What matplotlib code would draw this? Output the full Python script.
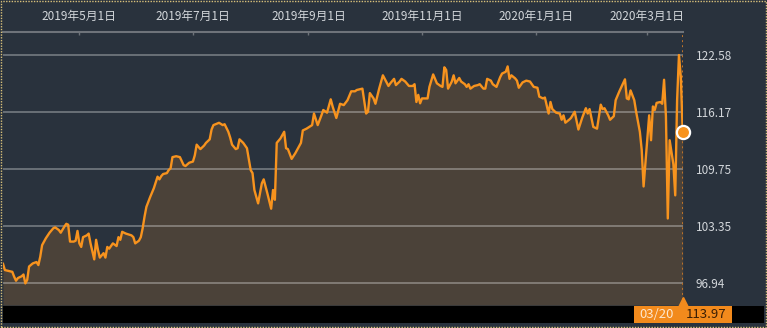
import numpy as np
import pandas as pd
import matplotlib
matplotlib.use("Agg")
import matplotlib.pyplot as plt
import matplotlib.dates as mdates
from matplotlib.patches import Rectangle
from matplotlib.transforms import blended_transform_factory

plt.rcParams['font.family'] = ['Noto Sans CJK JP', 'DejaVu Sans']

# 価格データ（チャートから読み取り）
dates = [
    "2019-03-21", "2019-03-22", "2019-03-24", "2019-03-26", "2019-03-27", "2019-03-28",
    "2019-03-29", "2019-03-31", "2019-04-01", "2019-04-02", "2019-04-03", "2019-04-04",
    "2019-04-06", "2019-04-08", "2019-04-09", "2019-04-10", "2019-04-11", "2019-04-13",
    "2019-04-15", "2019-04-17", "2019-04-18", "2019-04-20", "2019-04-21", "2019-04-23",
    "2019-04-24", "2019-04-25", "2019-04-26", "2019-04-28", "2019-04-29", "2019-04-30",
    "2019-05-01", "2019-05-02", "2019-05-03", "2019-05-05", "2019-05-06", "2019-05-07",
    "2019-05-09", "2019-05-10", "2019-05-11", "2019-05-12", "2019-05-14", "2019-05-15",
    "2019-05-16", "2019-05-17", "2019-05-18", "2019-05-19", "2019-05-21", "2019-05-22",
    "2019-05-23", "2019-05-24", "2019-05-26", "2019-05-29", "2019-05-30", "2019-05-31",
    "2019-06-02", "2019-06-03", "2019-06-04", "2019-06-05", "2019-06-06", "2019-06-08",
    "2019-06-10", "2019-06-12", "2019-06-13", "2019-06-14", "2019-06-15", "2019-06-17",
    "2019-06-18", "2019-06-19", "2019-06-20", "2019-06-22", "2019-06-24", "2019-06-26",
    "2019-06-27", "2019-06-29", "2019-07-01", "2019-07-02", "2019-07-03", "2019-07-05",
    "2019-07-07", "2019-07-08", "2019-07-10", "2019-07-11", "2019-07-12", "2019-07-15",
    "2019-07-17", "2019-07-18", "2019-07-20", "2019-07-21", "2019-07-22", "2019-07-24",
    "2019-07-25", "2019-07-26", "2019-07-28", "2019-07-30", "2019-08-01", "2019-08-02",
    "2019-08-03", "2019-08-05", "2019-08-07", "2019-08-08", "2019-08-10", "2019-08-12",
    "2019-08-13", "2019-08-14", "2019-08-15", "2019-08-17", "2019-08-19", "2019-08-20",
    "2019-08-21", "2019-08-23", "2019-08-25", "2019-08-28", "2019-08-29", "2019-08-31",
    "2019-09-03", "2019-09-04", "2019-09-06", "2019-09-08", "2019-09-09", "2019-09-11",
    "2019-09-13", "2019-09-14", "2019-09-16", "2019-09-18", "2019-09-20", "2019-09-22",
    "2019-09-24", "2019-09-26", "2019-09-27", "2019-09-30", "2019-10-02", "2019-10-03",
    "2019-10-04", "2019-10-06", "2019-10-07", "2019-10-09", "2019-10-11", "2019-10-12",
    "2019-10-14", "2019-10-15", "2019-10-17", "2019-10-18", "2019-10-20", "2019-10-21",
    "2019-10-23", "2019-10-25", "2019-10-27", "2019-10-28", "2019-10-29", "2019-10-30",
    "2019-10-31", "2019-11-01", "2019-11-02", "2019-11-04", "2019-11-05", "2019-11-07",
    "2019-11-09", "2019-11-11", "2019-11-12", "2019-11-13", "2019-11-14", "2019-11-15",
    "2019-11-17", "2019-11-18", "2019-11-19", "2019-11-21", "2019-11-22", "2019-11-24",
    "2019-11-25", "2019-11-26", "2019-11-27", "2019-11-29", "2019-12-01", "2019-12-02",
    "2019-12-04", "2019-12-05", "2019-12-06", "2019-12-08", "2019-12-09", "2019-12-11",
    "2019-12-13", "2019-12-14", "2019-12-16", "2019-12-17", "2019-12-18", "2019-12-19",
    "2019-12-21", "2019-12-22", "2019-12-23", "2019-12-25", "2019-12-27", "2019-12-29",
    "2019-12-31", "2020-01-02", "2020-01-03", "2020-01-05", "2020-01-06", "2020-01-07",
    "2020-01-08", "2020-01-09", "2020-01-10", "2020-01-12", "2020-01-14", "2020-01-15",
    "2020-01-16", "2020-01-17", "2020-01-19", "2020-01-20", "2020-01-22", "2020-01-24",
    "2020-01-26", "2020-01-28", "2020-01-29", "2020-01-30", "2020-02-01", "2020-02-03",
    "2020-02-05", "2020-02-06", "2020-02-07", "2020-02-09", "2020-02-10", "2020-02-12",
    "2020-02-13", "2020-02-15", "2020-02-18", "2020-02-19", "2020-02-20", "2020-02-21",
    "2020-02-23", "2020-02-24", "2020-02-26", "2020-02-27", "2020-02-28", "2020-03-02",
    "2020-03-03", "2020-03-04", "2020-03-05", "2020-03-06", "2020-03-08", "2020-03-09",
    "2020-03-10", "2020-03-11", "2020-03-12", "2020-03-13", "2020-03-15", "2020-03-16",
    "2020-03-17", "2020-03-18", "2020-03-19", "2020-03-20",
]
prices = [
    99.1, 98.4, 98.3, 98.2, 97.65, 97.2,
    97.5, 97.7, 97.9, 96.9, 97.3, 98.8,
    99.15, 99.3, 98.96, 99.9, 101.2, 101.97,
    102.6, 103.1, 103.2, 102.9, 102.6, 103.3,
    103.6, 103.5, 101.6, 101.6, 101.7, 102.8,
    101.4, 101.0, 102.1, 102.3, 102.5, 101.4,
    99.6, 101.8, 100.65, 99.8, 100.3, 99.8,
    101.0, 100.8, 101.1, 101.4, 101.1, 102.1,
    101.8, 102.7, 102.5, 102.3, 102.1, 101.4,
    101.7, 102.1, 103.1, 104.4, 105.5, 106.6,
    107.6, 108.9, 108.6, 108.97, 109.2, 109.3,
    109.65, 109.84, 111.1, 111.2, 111.1, 110.2,
    110.1, 110.47, 110.6, 111.3, 112.5, 112.0,
    112.4, 112.7, 113.1, 114.2, 114.7, 114.96,
    114.7, 114.8, 113.95, 113.3, 112.5, 112.0,
    112.1, 113.1, 112.7, 112.1, 109.65, 109.3,
    107.4, 105.9, 108.15, 108.6, 107.0, 105.3,
    107.4, 106.3, 112.7, 113.2, 113.95, 112.1,
    112.0, 110.9, 111.55, 112.7, 114.1, 114.3,
    114.7, 116.0, 114.7, 115.8, 116.4, 116.1,
    117.6, 116.8, 115.5, 117.1, 116.95, 117.5,
    118.5, 118.5, 118.65, 118.8, 116.0, 116.2,
    118.3, 117.7, 117.1, 118.8, 120.3, 119.9,
    119.1, 119.4, 119.9, 119.2, 119.6, 119.9,
    119.6, 119.1, 119.1, 119.3, 117.3, 118.1,
    117.15, 117.7, 117.7, 117.7, 119.0, 120.4,
    119.4, 119.1, 119.0, 121.2, 120.9, 118.8,
    119.6, 120.3, 119.4, 120.0, 119.6, 119.3,
    119.0, 119.3, 118.8, 119.1, 119.2, 119.3,
    118.8, 118.8, 119.9, 119.7, 119.3, 119.0,
    120.1, 120.5, 120.7, 121.3, 119.9, 120.3,
    119.96, 119.7, 118.9, 119.5, 119.7, 119.6,
    119.0, 118.9, 117.9, 117.7, 117.8, 116.9,
    116.0, 117.3, 116.5, 116.1, 116.0, 115.3,
    115.8, 114.97, 115.3, 115.5, 116.2, 114.2,
    115.5, 116.6, 116.0, 116.5, 114.5, 114.3,
    117.0, 116.5, 116.6, 115.8, 115.3, 115.7,
    117.5, 118.5, 119.85, 117.7, 117.6, 118.6,
    117.5, 116.2, 113.95, 111.9, 107.8, 115.8,
    113.0, 116.8, 116.4, 117.2, 117.3, 117.1,
    119.8, 115.7, 104.2, 113.0, 110.3, 106.8,
    117.5, 122.58, 120.1, 113.97,
]

ytick_vals = [96.94, 103.35, 109.75, 116.17, 122.58]
xtick_dates = ["2019-05-01", "2019-07-01", "2019-09-01", "2019-11-01", "2020-01-01", "2020-03-01"]
last_label = "03/20"

bg = '#29323d'
line_c = '#f7931e'
fill_c = '#4b4239'

x = pd.to_datetime(dates)
y = np.array(prices)

fig = plt.figure(figsize=(7.67, 3.28), dpi=100, facecolor=bg)
ax = fig.add_axes([3/767, 23/328, 680/767, 273/328])
ax.set_facecolor(bg)

x0, x1 = pd.Timestamp("2019-03-21"), pd.Timestamp("2020-03-20 04:00")
ax.set_xlim(x0, x1)
ax.set_ylim(94.47, 125.17)

# グリッド
for v in ytick_vals:
    ax.axhline(v, color='white', alpha=0.3, lw=1.4, zorder=2)

ax.fill_between(x, y, 94.47, color=fill_c, lw=0, zorder=1)
ax.plot(x, y, color=line_c, lw=1.7, zorder=3, solid_joinstyle='round')

# 最終値
ax.axvline(x[-1], color='#c0742a', ls=(0, (1, 1.6)), lw=1.4, zorder=2)
ax.plot([x[-1]], [y[-1]], 'o', ms=9.5, mfc=line_c, mec='white', mew=1.6,
        zorder=5, clip_on=False)

# 軸
for s in ['left', 'right', 'bottom']:
    ax.spines[s].set_visible(False)
ax.spines['top'].set_color('#6e737a')
ax.spines['top'].set_linewidth(1.5)

ax.xaxis.tick_top()
xt = pd.to_datetime(xtick_dates)
ax.set_xticks(xt)
ax.set_xticklabels([f"{d.year}年{d.month}月{d.day}日" for d in xt])
ax.tick_params(axis='x', direction='in', length=2.5, width=1, color='#6e737a',
               labelsize=8.5, labelcolor='#d2d6da', pad=6.5)

ax.yaxis.tick_right()
ax.set_yticks(ytick_vals)
ax.set_yticklabels([f"{v:.2f}" for v in ytick_vals])
ax.tick_params(axis='y', length=0, labelsize=8.5, labelcolor='#d2d6da', pad=9)

# 下部バー
fig.patches.append(Rectangle((3/767, 5/328), 761/767, 17/328, transform=fig.transFigure,
                             facecolor='black', edgecolor='none', zorder=-1))

tr = blended_transform_factory(ax.transData, fig.transFigure)
x_num = mdates.date2num(x[-1])
px_per_day = 680 / (mdates.date2num(x1) - mdates.date2num(x0))
half = 49 / px_per_day
ax.add_patch(Rectangle((x_num - half, 5/328), 2 * half, 17/328, transform=tr,
                       facecolor='#f28a1c', edgecolor='none', clip_on=False, zorder=6))
ax.plot([x_num], [25/328], marker='^', ms=8, color='#f28a1c', transform=tr,
        clip_on=False, zorder=6)
ax.annotate(last_label, xy=(x_num, 13.5/328), xycoords=tr, xytext=(-18.5, 0),
            textcoords='offset points', ha='center', va='center', fontsize=9.5,
            color='#fde6cc', zorder=7, annotation_clip=False)
ax.annotate(f"{y[-1]:.2f}", xy=(x_num, 13.5/328), xycoords=tr, xytext=(16.5, 0),
            textcoords='offset points', ha='center', va='center', fontsize=9.5,
            color='#3a1e05', zorder=7, annotation_clip=False)

# 外枠（点線）
fig.patches.append(Rectangle((0.6/767, 0.6/328), 765.8/767, 326.8/328, transform=fig.transFigure,
                             facecolor='none', edgecolor='#d8c07a', lw=1, ls=(0, (1, 1))))

fig.savefig("out.png", dpi=100, facecolor=bg)
